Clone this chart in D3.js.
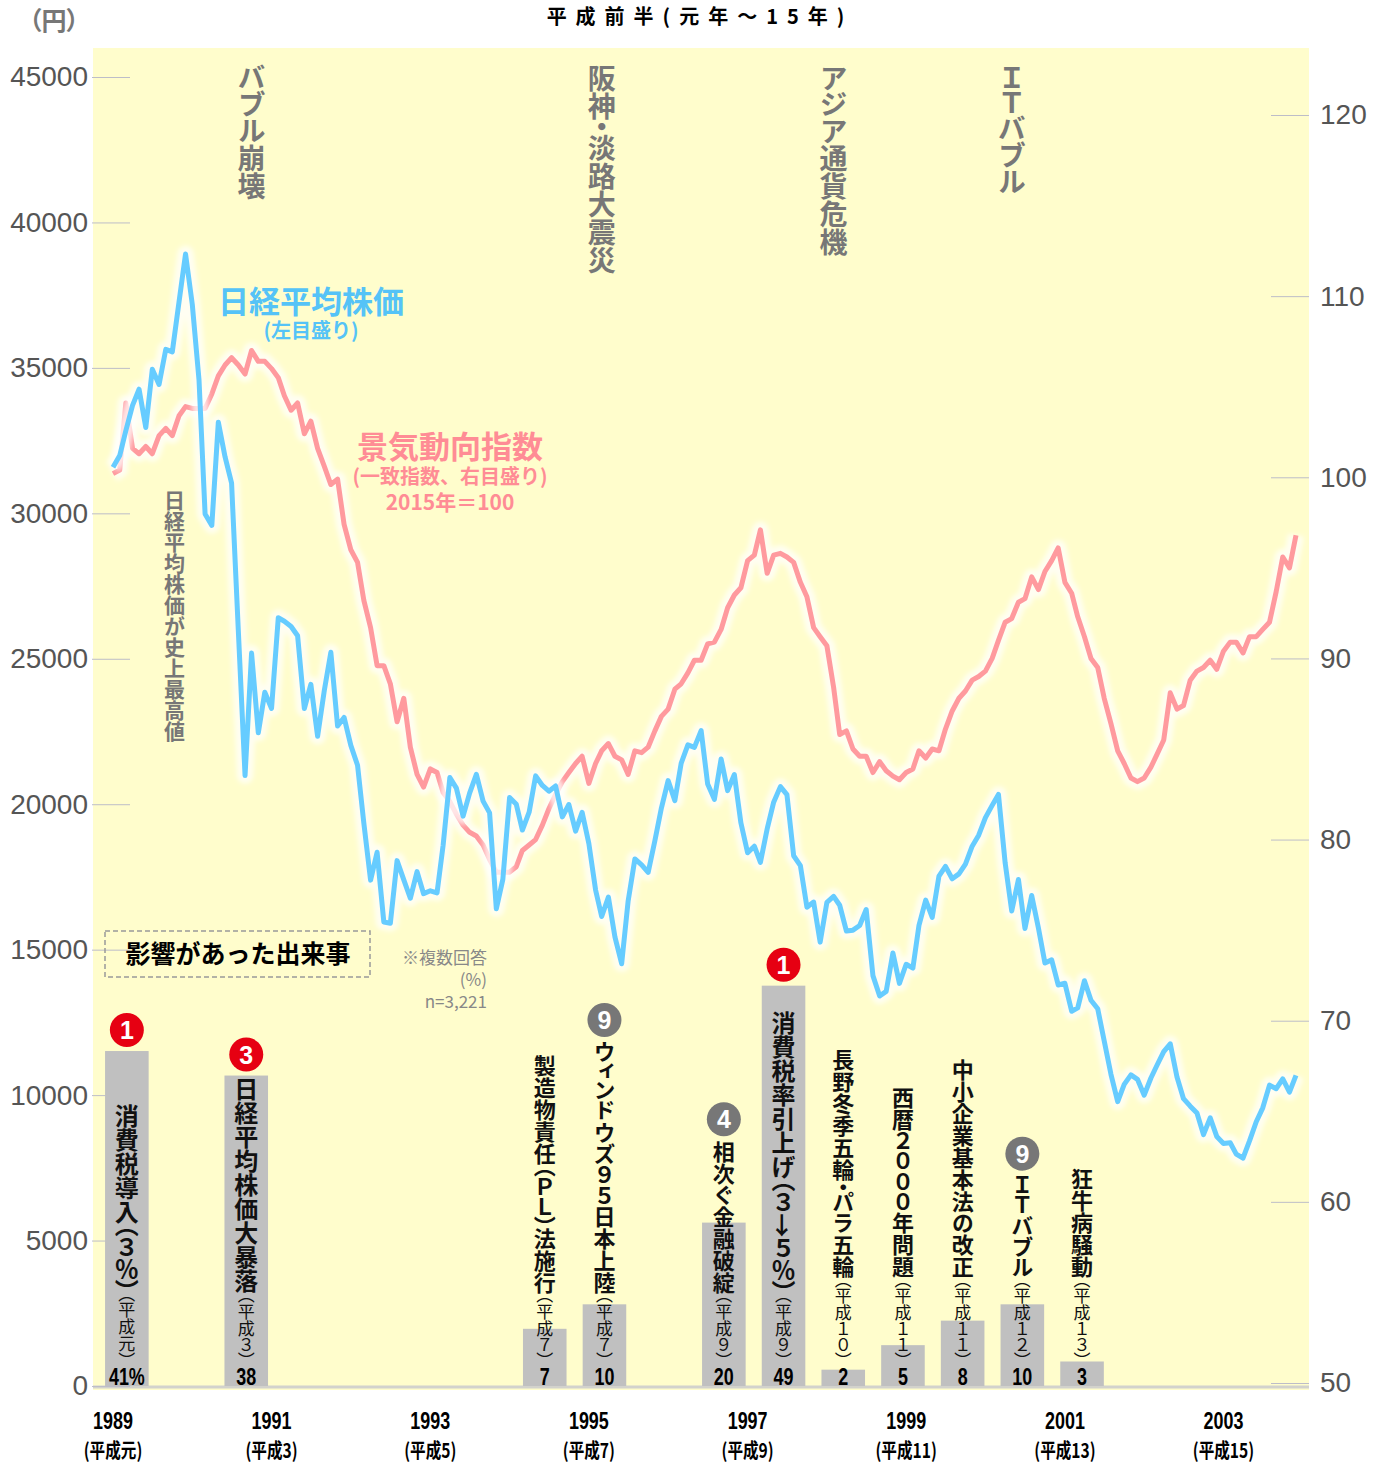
<!DOCTYPE html>
<html>
<head>
<meta charset="utf-8">
<script src="https://cdn.jsdelivr.net/npm/d3@7"></script>
<style>
	body { margin: 0; background: #fff; }
	svg text { font-family: "Noto Sans CJK JP", "Noto Sans", sans-serif; }
</style>
</head>
<body>
<svg id="chart" width="1379" height="1464"></svg>
<script>
//Monthly closing price of the Nikkei average, Jan 1989 - Dec 2003 (yen, left axis)
const nikkei = [
	31581, 31985, 32839, 33713, 34267, 32949, 34954, 34431, 35637, 35549, 37269, 38916,
	37189, 34592, 29980, 29585, 33131, 31940, 31036, 25978, 20984, 25195, 22455, 23849,
	23293, 26409, 26292, 26111, 25790, 23291, 24121, 22336, 23916, 25222, 22687, 22984,
	22023, 21339, 19346, 17391, 18348, 15952, 15910, 18061, 17399, 16767, 17684, 16925,
	17024, 16953, 18591, 20919, 20552, 19591, 20380, 21027, 20106, 19703, 16408, 17417,
	20229, 19997, 19112, 19725, 20974, 20644, 20449, 20629, 19564, 19990, 19076, 19723,
	18650, 17053, 16140, 16807, 15437, 14517, 16678, 18117, 17913, 17655, 18744, 19868,
	20813, 20125, 21407, 22041, 21956, 22531, 20693, 20167, 21556, 20467, 21020, 19361,
	18330, 18557, 18003, 19151, 20069, 20605, 20331, 18229, 17888, 16459, 16636, 15259,
	16628, 16832, 16527, 15641, 15671, 15831, 16379, 14108, 13406, 13565, 14884, 13842,
	14499, 14368, 15837, 16702, 16112, 17530, 17862, 17437, 17605, 17942, 18558, 18934,
	19540, 19960, 20337, 17974, 16332, 17411, 15727, 16861, 15747, 14539, 14649, 13786,
	13844, 12884, 13000, 13934, 13262, 12969, 11861, 10714, 9775, 10367, 10697, 10543,
	9998, 10588, 11025, 11493, 11764, 10622, 9878, 9620, 9383, 8641, 9216, 8579,
	8340, 8363, 7973, 7831, 8425, 9083, 9563, 10344, 10219, 10560, 10101, 10677
];

//Coincident index of business conditions, 2015 = 100 (right axis)
const ci = [
	100.2, 100.4, 104.1, 101.6, 101.3, 101.7, 101.3, 102.3, 102.7, 102.3, 103.4, 103.9,
	103.8, 103.8, 103.8, 104.6, 105.6, 106.2, 106.6, 106.2, 105.7, 107.0, 106.4, 106.4,
	106.0, 105.5, 104.5, 103.7, 104.1, 102.4, 103.1, 101.6, 100.6, 99.6, 99.9, 97.4,
	96.0, 95.3, 93.2, 91.7, 89.6, 89.6, 88.6, 86.5, 87.8, 85.1, 83.6, 82.9,
	83.9, 83.7, 82.6, 82.1, 81.4, 80.8, 80.4, 80.2, 79.7, 78.9, 78.2, 78.2,
	78.2, 78.5, 79.4, 79.7, 80.0, 80.8, 81.7, 82.5, 83.2, 83.7, 84.2, 84.6,
	83.1, 84.2, 84.9, 85.3, 84.6, 84.4, 83.6, 84.9, 84.8, 85.1, 86.0, 86.8,
	87.2, 88.3, 88.6, 89.2, 89.9, 89.9, 90.8, 90.9, 91.6, 92.8, 93.5, 93.9,
	95.4, 95.7, 97.1, 94.7, 95.7, 95.8, 95.6, 95.3, 94.2, 93.4, 91.7, 91.2,
	90.7, 88.4, 85.8, 86.0, 85.0, 84.6, 84.6, 83.7, 84.3, 83.8, 83.5, 83.3,
	83.7, 83.9, 84.9, 84.5, 85.0, 84.9, 86.1, 87.1, 87.8, 88.2, 88.8, 89.0,
	89.3, 90.0, 91.0, 92.0, 92.2, 93.1, 93.3, 94.5, 93.8, 94.8, 95.4, 96.1,
	94.2, 93.6, 92.3, 91.2, 90.0, 89.5, 87.8, 86.4, 84.9, 84.2, 83.4, 83.2,
	83.4, 84.0, 84.7, 85.5, 88.1, 87.2, 87.4, 88.8, 89.3, 89.5, 89.9, 89.4,
	90.4, 90.9, 90.9, 90.3, 91.2, 91.2, 91.6, 92.0, 93.7, 95.6, 95.0, 96.8
];

const leftTicks = [0, 5000, 10000, 15000, 20000, 25000, 30000, 35000, 40000, 45000];
const rightTicks = [50, 60, 70, 80, 90, 100, 110, 120];
const xTickYears = [1989, 1991, 1993, 1995, 1997, 1999, 2001, 2003];
const xTickEras = ['平成元', '平成3', '平成5', '平成7', '平成9', '平成11', '平成13', '平成15'];

//Events written over the lines, and the month each label sits on
const headlineEvents = ['バブル崩壊', '阪神・淡路大震災', 'アジア通貨危機', 'ＩＴバブル'];
const headlineMonths = ['1990-10', '1995-03', '1998-02', '2000-05'];

//Survey: events that had an impact (%, multiple answers, n=3,221)
const eventNames = ['消費税導入（３％）', '日経平均株価大暴落', '製造物責任（ＰＬ）法施行', 'ウィンドウズ９５日本上陸',
	'相次ぐ金融破綻', '消費税率引上げ（３→５％）', '長野冬季五輪・パラ五輪', '西暦２０００年問題',
	'中小企業基本法の改正', 'ＩＴバブル', '狂牛病騒動'];
const eventEras = ['平成元', '平成３', '平成７', '平成７', '平成９', '平成９', '平成１０', '平成１１', '平成１１', '平成１２', '平成１３'];
const eventShares = [41, 38, 7, 10, 20, 49, 2, 5, 8, 10, 3];
const eventRanks = [1, 3, null, 9, 4, 1, null, null, null, 9, null];
const eventSlots = [0, 2, 7, 8, 10, 11, 12, 13, 14, 15, 16];

const blue = '#66CCFF', pink = '#FF9A9E';
const svg = d3.select('#chart');

//Plot background
svg.append('rect')
	.attr('x', 93).attr('y', 48)
	.attr('width', 1216).attr('height', 1342)
	.attr('fill', '#FFFDCC');

svg.append('line')
	.attr('x1', 93).attr('x2', 1309)
	.attr('y1', 1387).attr('y2', 1387)
	.attr('stroke', '#d2d2cc').attr('stroke-width', 3);

//Scales
const months = nikkei.map((d, i) => new Date(Date.UTC(1989, i, 1)));
const x = d3.scaleUtc()
	.domain([months[0], months[months.length - 1]])
	.range([113, 1296]);
const yLeft = d3.scaleLinear().domain([0, 45000]).range([1386, 77]);
const yRight = d3.scaleLinear().domain([50, 120]).range([1383, 115]);
const parseMonth = d3.utcParse('%Y-%m');

const numFont = '"Liberation Sans", Arial, sans-serif';

//Axes
svg.append('g')
	.attr('transform', 'translate(130,0)')
	.call(d3.axisLeft(yLeft).tickValues(leftTicks).tickSize(38).tickPadding(4).tickFormat(d3.format('d')))
	.call(g => g.select('.domain').remove())
	.call(g => g.selectAll('line').attr('stroke', '#bdbdc8'))
	.call(g => g.selectAll('text').attr('fill', '#555').style('font-family', numFont).style('font-size', '28px'));

svg.append('g')
	.attr('transform', 'translate(1271,0)')
	.call(d3.axisRight(yRight).tickValues(rightTicks).tickSize(38).tickPadding(11))
	.call(g => g.select('.domain').remove())
	.call(g => g.selectAll('line').attr('stroke', '#bdbdc8'))
	.call(g => g.selectAll('text').attr('fill', '#555').style('font-family', numFont).style('font-size', '28px'));

//Year labels under the plot: year and era name as two lines of one text
let yearLabels = svg.append('g').selectAll('text')
	.data(xTickYears)
	.join('text')
	.attr('transform', d => `translate(${x(new Date(Date.UTC(d, 0, 1)))},0) scale(0.78,1)`)
	.attr('text-anchor', 'middle')
	.style('font-weight', 'bold');

yearLabels.append('tspan')
	.attr('x', 0).attr('y', 1429)
	.style('font-family', numFont)
	.style('font-size', '23px')
	.text(d => d);

yearLabels.append('tspan')
	.attr('x', 0).attr('y', 1458)
	.style('font-size', '20px')
	.text((d, i) => '(' + xTickEras[i] + ')');

//Lines with a soft white halo
const defs = svg.append('defs');
defs.append('filter').attr('id', 'glow')
	.attr('x', '-5%').attr('y', '-5%').attr('width', '110%').attr('height', '110%')
	.append('feGaussianBlur').attr('stdDeviation', 2.5);

const nikkeiLine = d3.line().x((d, i) => x(months[i])).y(d => yLeft(d));
const ciLine = d3.line().x((d, i) => x(months[i])).y(d => yRight(d));

function drawLine(values, line, color) {
	svg.append('path')
		.datum(values)
		.attr('d', line)
		.attr('fill', 'none')
		.attr('stroke', '#fff')
		.attr('stroke-opacity', 0.75)
		.attr('stroke-width', 16)
		.attr('stroke-linejoin', 'round')
		.attr('filter', 'url(#glow)');
	svg.append('path')
		.datum(values)
		.attr('d', line)
		.attr('fill', 'none')
		.attr('stroke', color)
		.attr('stroke-width', 5)
		.attr('stroke-linejoin', 'round');
}
drawLine(ci, ciLine, pink);
drawLine(nikkei, nikkeiLine, blue);

//Vertical text helper
function vtext(g, str, cx, y, size, anchor, weight, fill) {
	return g.append('text')
		.attr('x', cx).attr('y', y)
		.attr('text-anchor', anchor)
		.style('writing-mode', 'vertical-rl')
		.style('font-feature-settings', '"vpal" 1')
		.style('font-size', size + 'px')
		.style('font-weight', weight)
		.attr('fill', fill)
		.text(str);
}

headlineEvents.forEach((name, i) => {
	vtext(svg, name, x(parseMonth(headlineMonths[i])), 64, 28, 'start', 'bold', '#777');
});
vtext(svg, '日経平均株価が史上最高値', x(months[11]) - 11, 490, 21, 'start', 'bold', '#777');

//Series labels, one text per series with a line per tspan
const legend = [
	{ x: 311, color: '#55C3F7', lines: [
		{ text: '日経平均株価', y: 313, size: 31 },
		{ text: '(左目盛り)', y: 338, size: 20 }] },
	{ x: 450, color: '#FF8C95', lines: [
		{ text: '景気動向指数', y: 458, size: 31 },
		{ text: '(一致指数、右目盛り)', y: 484, size: 20 },
		{ text: '2015年＝100', y: 510, size: 21 }] }
];
svg.append('g').selectAll('text')
	.data(legend)
	.join('text')
	.attr('text-anchor', 'middle')
	.attr('fill', d => d.color)
	.style('font-weight', 'bold')
	.each(function (d) {
		d3.select(this).selectAll('tspan')
			.data(d.lines)
			.join('tspan')
			.attr('x', d.x)
			.attr('y', l => l.y)
			.style('font-size', l => l.size + 'px')
			.text(l => l.text);
	});

//Titles
svg.append('text')
	.attr('x', 700).attr('y', 24)
	.attr('text-anchor', 'middle')
	.style('font-size', '20px')
	.style('font-weight', 'bold')
	.style('letter-spacing', '9px')
	.text('平成前半(元年～15年)');

svg.append('text')
	.attr('x', 29).attr('y', 30)
	.attr('fill', '#777')
	.style('font-size', '25px')
	.style('font-weight', 'bold')
	.style('font-feature-settings', '"palt" 1')
	.text('（円）');

//Survey box and notes
svg.append('rect')
	.attr('x', 105).attr('y', 931)
	.attr('width', 265).attr('height', 46)
	.attr('fill', 'none')
	.attr('stroke', '#999')
	.attr('stroke-width', 1.5)
	.attr('stroke-dasharray', '5,3');

svg.append('text')
	.attr('x', 238).attr('y', 963)
	.attr('text-anchor', 'middle')
	.style('font-size', '25px')
	.style('font-weight', 'bold')
	.text('影響があった出来事');

svg.append('g').selectAll('text')
	.data(['※複数回答', '(%)', 'n=3,221'])
	.join('text')
	.attr('x', 487)
	.attr('y', (d, i) => 964 + i * 22)
	.attr('text-anchor', 'end')
	.attr('fill', '#888')
	.style('font-size', '17px')
	.text(d => d);

//Survey bars
const xBar = d3.scaleBand()
	.domain(d3.range(20))
	.range([97, 1291])
	.paddingInner(0.27)
	.paddingOuter(0.135);
const yBar = d3.scaleLinear().domain([0, 50]).range([1386, 977.5]);

const barData = eventNames.map((name, i) => ({
	name, era: eventEras[i], share: eventShares[i], rank: eventRanks[i], slot: eventSlots[i], first: i === 0
}));

svg.append('g').selectAll('rect')
	.data(barData)
	.join('rect')
	.attr('x', d => xBar(d.slot))
	.attr('y', d => yBar(d.share))
	.attr('width', xBar.bandwidth())
	.attr('height', d => yBar(0) - yBar(d.share))
	.attr('fill', '#C0C0C0');

const barText = svg.append('g');
barData.forEach(d => {
	const cx = xBar(d.slot) + xBar.bandwidth() / 2;
	const top3 = d.rank !== null && d.rank <= 3;

	barText.append('text')
		.attr('transform', `translate(${cx},1385) scale(0.78,1)`)
		.attr('text-anchor', 'middle')
		.style('font-family', numFont)
		.style('font-size', '23px')
		.style('font-weight', 'bold')
		.text(d.first ? d.share + '%' : d.share);

	const sub = vtext(barText, '（' + d.era + '）', cx, 1361, 17, 'end', 'normal', '#111');
	const subLen = sub.node().getComputedTextLength();
	const main = vtext(barText, d.name, cx, 1360 - subLen, top3 ? 24 : 22, 'end', 'bold', '#111');
	const textTop = 1360 - subLen - main.node().getComputedTextLength();

	//Rank badges: red ones sit on the bar, grey ones above the label
	if (d.rank !== null) {
		const cy = (top3 ? yBar(d.share) : textTop) - 21;
		barText.append('circle')
			.attr('cx', cx).attr('cy', cy).attr('r', 17)
			.attr('fill', top3 ? '#E60012' : '#777');
		barText.append('text')
			.attr('x', cx).attr('y', cy + 9)
			.attr('text-anchor', 'middle')
			.attr('fill', '#fff')
			.style('font-family', numFont)
			.style('font-size', '25px')
			.style('font-weight', 'bold')
			.text(d.rank);
	}
});
</script>
</body>
</html>
